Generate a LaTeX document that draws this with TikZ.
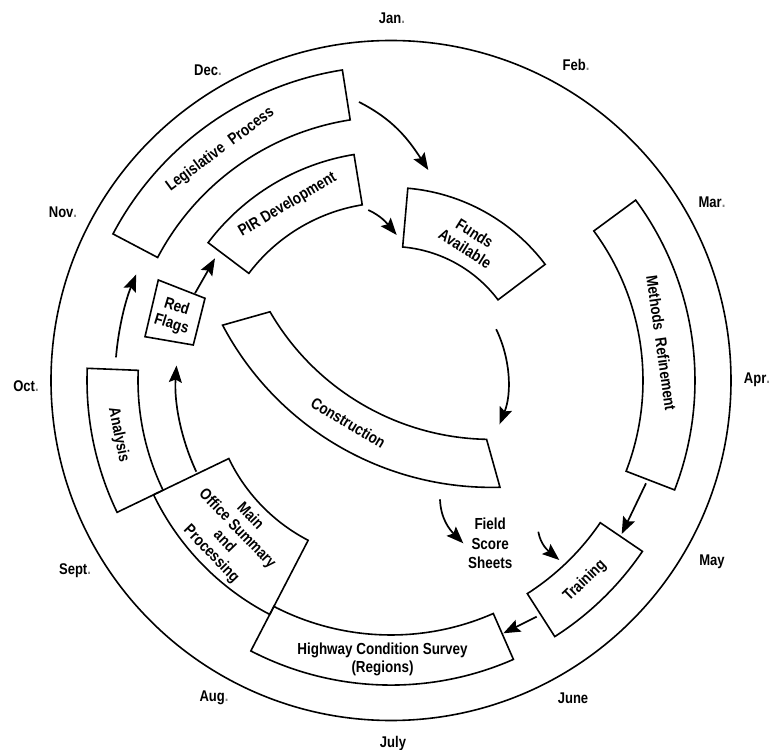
\documentclass[tikz,border=0pt]{standalone}
\usepackage{fontspec}
\setmainfont[FakeStretch=0.84]{Liberation Sans}
\usetikzlibrary{arrows.meta}
\newcommand{\annsec}[4]{(#1:#3) arc[start angle=#1,end angle=#2,radius=#3] -- (#2:#4) arc[start angle=#2,end angle=#1,radius=#4] -- cycle}
\begin{document}
\begin{tikzpicture}[x=1pt,y=1pt,
  box/.style={line width=1.6pt},
  lbl/.style={font=\fontsize{16}{18}\selectfont\bfseries, inner sep=0pt, align=center},
  mon/.style={font=\fontsize{15.5}{18}\selectfont\bfseries, inner sep=0pt},
  arr/.style={line width=1.7pt, -{Stealth[length=17pt,width=13pt,inset=3pt]}}]
\useasboundingbox (-391,-368.5) rectangle (382,380.5);
% outer circle
\draw[line width=1.6pt] (0,0) circle[radius=340];
% boxes on the rings
\draw[box] \annsec{98.9}{152.2}{314.3}{263.8};   % Legislative Process
\draw[box] \annsec{99.3}{143}{229}{178};         % PIR Development
\draw[box] \annsec{37}{85}{193}{134};            % Funds Available
\draw[box] \annsec{36.4}{-21.1}{304}{252};       % Methods Refinement
\draw[box] \annsec{-34.2}{-57.4}{304}{253};      % Training
\draw[box] \annsec{-66.3}{-117.4}{304.6}{254.5}; % Highway Condition Survey
\draw[box] \annsec{177.7}{205.7}{304}{253};      % Analysis
\draw[box] \annsec{205.7}{242.6}{263.5}{180};    % Main Office
\draw[box] (-232.7,100.5) -- (-186,82.2) -- (-197.7,35.5) -- (-246,43.8) -- cycle; % Red Flags
\begin{scope}[shift={(100.5,197.1)}]
\draw[box] (207.8:304) arc[start angle=207.8,end angle=271.6,radius=304]
  -- (268.9:256) arc[start angle=268.9,end angle=210.1,radius=256] -- cycle; % Construction
\end{scope}
% labels
\node[lbl, rotate=36.5] (legT) at (126.5:287) {Legislative\hspace{0.5em}Process};
\node[lbl, rotate=30.5] (pirT) at (120.5:203.7) {PIR Development};
\node[lbl, rotate=-32] (fundsT) at (60.5:160.3) {Funds\\Available};
\node[lbl, rotate=-82] (methT) at (7.9:273) {Methods\hspace{0.5em}Refinement};
\node[lbl, rotate=44.1] (trainT) at (-45.9:279) {Training};
\node[lbl] (hcsT) at (-8.5,-278.5) {Highway Condition Survey\\(Regions)};
\node[lbl, rotate=-46] (mainT) at (224:223) {Main\\Office Summary\\and\\Processing};
\node[lbl, rotate=-78.7] (anaT) at (191.3:278) {Analysis};
\node[lbl, rotate=-17] (redT) at (-217,64.5) {Red\\Flags};
\node[lbl, rotate=-31] (consT) at (-42.7,-42.2) {Construction};
\node[lbl, font=\fontsize{16}{19.7}\selectfont\bfseries] (fieldT) at (99.2,-162.8) {Field\\Score\\Sheets};
% months
\node[mon] (jan) at (1,362.5) {Jan{\color{gray}.}};
\node[mon] (feb) at (185,315.5) {Feb{\color{gray}.}};
\node[mon] (mar) at (321,178.5) {Mar{\color{gray}.}};
\node[mon] (apr) at (366,0.5) {Apr{\color{gray}.}};
\node[mon] (may) at (321,-181.5) {May};
\node[mon] (jun) at (182,-317.5) {June};
\node[mon] (jul) at (2,-362.5) {July};
\node[mon] (aug) at (-177,-317.5) {Aug{\color{gray}.}};
\node[mon] (sep) at (-316,-190.5) {Sept{\color{gray}.}};
\node[mon] (oct) at (-365,-5.5) {Oct{\color{gray}.}};
\node[mon] (nov) at (-328,168.5) {Nov{\color{gray}.}};
\node[mon] (dec) at (-183,310.5) {Dec{\color{gray}.}};
% connector end points
\coordinate (a1s) at (-32,278.5);   \coordinate (a1e) at (37.3,210.5);
\coordinate (a2s) at (-22.7,170.5); \coordinate (a2e) at (5.7,145.5);
\coordinate (a3s) at (26:117);
\coordinate (a4s) at (49,-118.8);   \coordinate (a4e) at (72.3,-162.8);
\coordinate (a5s) at (147.3,-151.2);\coordinate (a5e) at (168.3,-179.5);
\coordinate (a6s) at (255,-102.8);  \coordinate (a6e) at (230.7,-153.5);
\coordinate (a7s) at (145.7,-236.2);\coordinate (a7e) at (112.3,-252.8);
\coordinate (a8s) at (205.1:215);
\coordinate (a9s) at (175.2:276);
\coordinate (a10s) at (-196,87.2);  \coordinate (a10e) at (-176,122.2);
% connectors
\draw[arr] (a1s) to[out=-27,in=123] (a1e);
\draw[arr] (a2s) to[out=-25,in=130] (a2e);
\draw[arr] (a3s) arc[start angle=26,end angle=-22,radius=117];
\draw[arr] (a4s) to[out=-88,in=135] (a4e);
\draw[arr] (a5s) to[out=-80,in=140] (a5e);
\draw[arr] (a6s) -- (a6e);
\draw[arr] (a7s) -- (a7e);
\draw[arr] (a8s) arc[start angle=205.1,end angle=176,radius=215];
\draw[arr] (a9s) arc[start angle=175.2,end angle=157.4,radius=276];
\draw[arr] (a10s) -- (a10e);
\end{tikzpicture}
\end{document}
